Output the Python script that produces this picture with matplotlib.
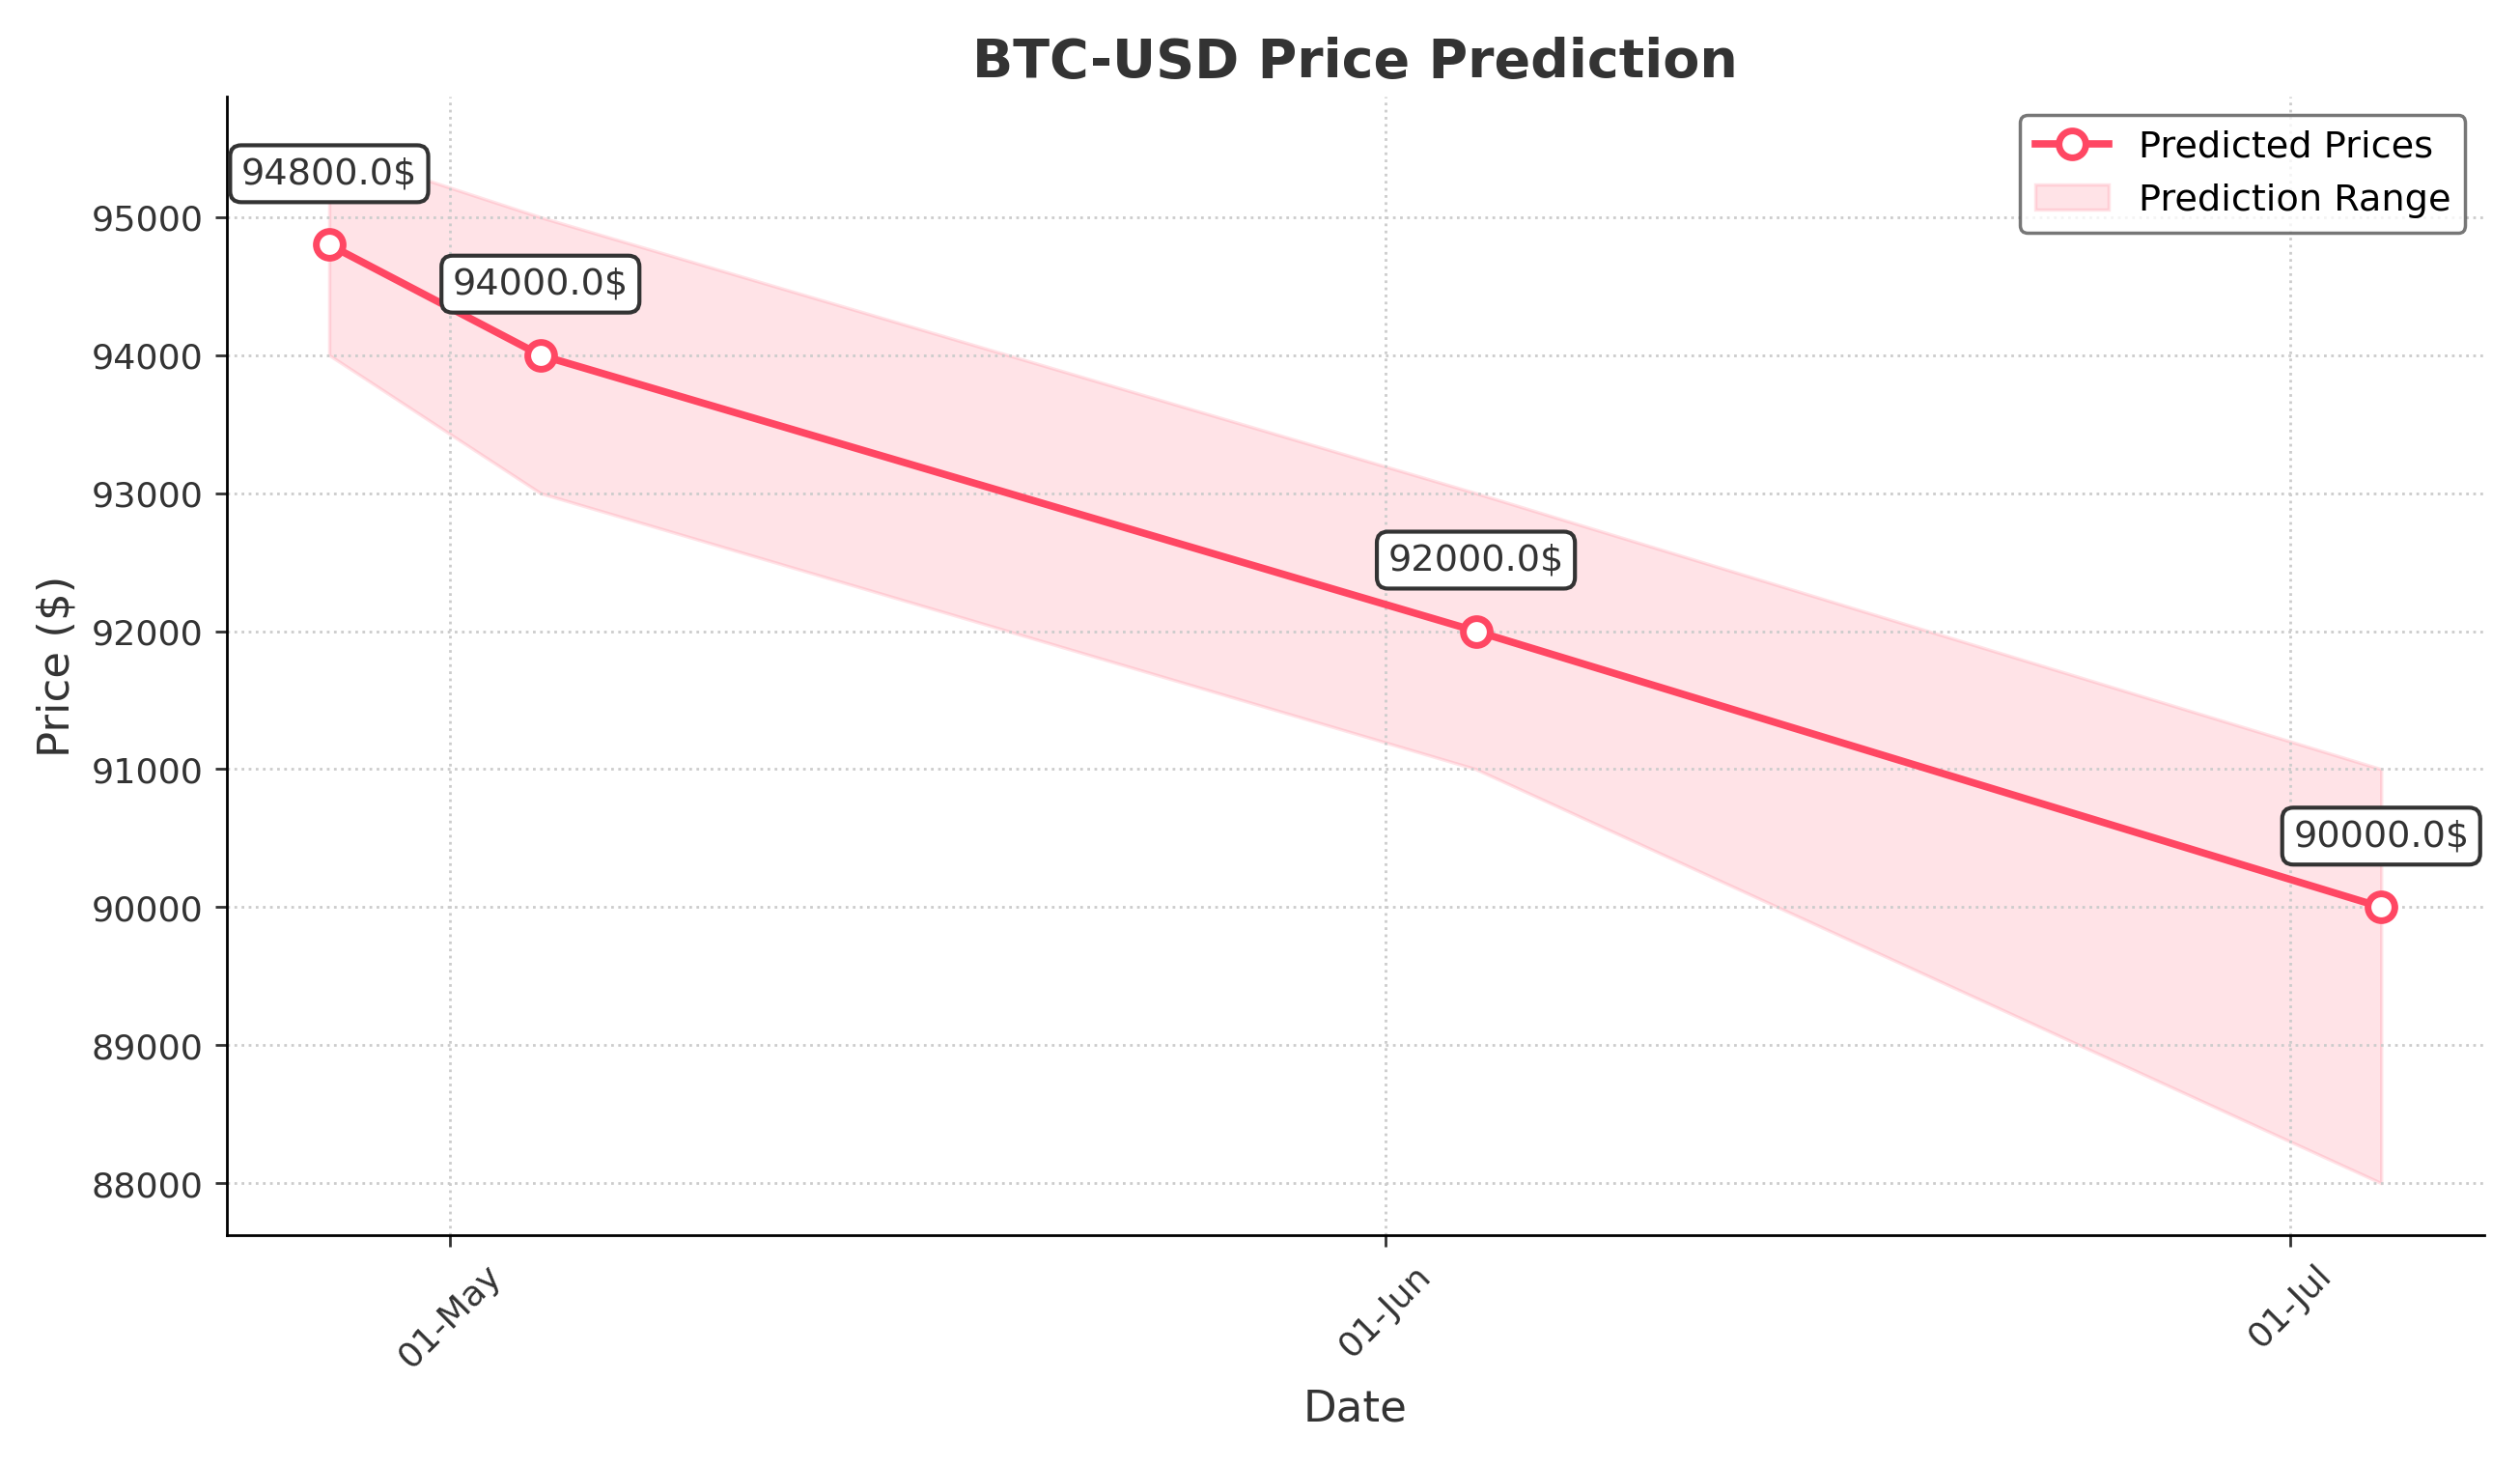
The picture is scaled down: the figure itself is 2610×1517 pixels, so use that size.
import numpy as np
import pandas as pd
import matplotlib.pyplot as plt
import matplotlib.dates as mdates

dates = pd.to_datetime(['2025-04-27', '2025-05-04', '2025-06-04', '2025-07-04'])
predicted = [94800, 94000, 92000, 90000]
upper = [95500, 95000, 93000, 91000]
lower = [94000, 93000, 91000, 88000]

color = '#ff4763'
fig, ax = plt.subplots(figsize=(10.44, 6.07), dpi=250)

ax.plot(dates, predicted, color=color, linewidth=2.2, marker='o', markersize=8,
        markerfacecolor='white', markeredgewidth=2, label='Predicted Prices', zorder=3)
ax.fill_between(dates, lower, upper, color=color, alpha=0.15, label='Prediction Range')

for d, p in zip(dates, predicted):
    ax.annotate(f'{float(p)}$', (d, p), xytext=(0, 16), textcoords='offset points',
                ha='center', va='bottom', fontsize=11, color='#333333',
                bbox=dict(boxstyle='round,pad=0.3', fc='white', ec='#333333', lw=1.2))

ax.set_title('BTC-USD Price Prediction', fontsize=16, fontweight='bold', color='#333333')
ax.set_xlabel('Date', fontsize=13, color='#333333')
ax.set_ylabel('Price ($)', fontsize=13, color='#333333')
ax.xaxis.set_major_locator(mdates.MonthLocator())
ax.xaxis.set_major_formatter(mdates.DateFormatter('%d-%b'))
plt.setp(ax.get_xticklabels(), rotation=45)
ax.tick_params(labelsize=10.5, colors='#333333')
ax.grid(True, linestyle=':', color='#cccccc', linewidth=0.8)
ax.spines['top'].set_visible(False)
ax.spines['right'].set_visible(False)
ax.legend(fontsize=11, loc='upper right', edgecolor='#555555', fancybox=True)

plt.tight_layout()
plt.savefig('out.png', dpi=250)
